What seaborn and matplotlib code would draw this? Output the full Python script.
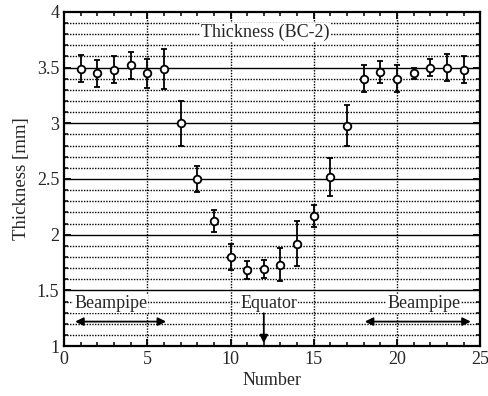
import numpy as np
import pandas as pd
import matplotlib
matplotlib.use("Agg")
import matplotlib.pyplot as plt
import seaborn as sns
from matplotlib.ticker import MultipleLocator

number = list(range(1, 25))
thickness = [3.49, 3.45, 3.48, 3.52, 3.45, 3.49, 3.00, 2.50, 2.12, 1.80, 1.68, 1.69,
             1.73, 1.92, 2.17, 2.52, 2.98, 3.40, 3.46, 3.40, 3.45, 3.50, 3.50, 3.48]
error = [0.12, 0.12, 0.12, 0.12, 0.13, 0.18, 0.20, 0.12, 0.10, 0.12, 0.08, 0.08,
         0.15, 0.20, 0.10, 0.17, 0.18, 0.12, 0.10, 0.12, 0.05, 0.08, 0.12, 0.12]

df = pd.DataFrame({"Number": number, "Thickness": thickness, "err": error})

sns.set_theme(style="ticks")
plt.rcParams['font.family'] = ['Liberation Serif', 'DejaVu Serif']

fig = plt.figure(figsize=(4.89, 3.96), dpi=100)
ax = fig.add_axes([0.131, 0.126, 0.851, 0.844])

# grid
for y in np.arange(1.1, 4.0, 0.1):
    if abs(round(y * 2) - y * 2) < 1e-6:
        ax.axhline(y, color='black', lw=1.0, zorder=1)
    else:
        ax.axhline(y, color='black', lw=1.0, ls=(0, (1.0, 1.0)), zorder=1)
for x in [5, 10, 15, 20]:
    ax.axvline(x, color='black', lw=1.0, ls=(0, (1.0, 1.0)), zorder=1)

ax.errorbar(df["Number"], df["Thickness"], yerr=df["err"], fmt='none',
            ecolor='black', elinewidth=1.3, capsize=2.5, capthick=1.3, zorder=3)
sns.scatterplot(data=df, x="Number", y="Thickness", ax=ax, marker='o', s=30,
                facecolor='white', edgecolor='black', linewidth=1.3, zorder=4)

ax.set_xlim(0, 25)
ax.set_ylim(1, 4)
ax.xaxis.set_major_locator(MultipleLocator(5))
ax.xaxis.set_minor_locator(MultipleLocator(1))
ax.yaxis.set_major_locator(MultipleLocator(0.5))
ax.yaxis.set_minor_locator(MultipleLocator(0.1))
ax.tick_params(which='both', direction='in', top=True, right=True, color='black', labelsize=13)
ax.tick_params(which='major', length=5, width=1.3)
ax.tick_params(which='minor', length=3, width=1.1)
ax.set_yticks([1, 1.5, 2, 2.5, 3, 3.5, 4])
ax.set_yticklabels(['1', '1.5', '2', '2.5', '3', '3.5', '4'])
for s in ax.spines.values():
    s.set_linewidth(1.6)
    s.set_color('black')

ax.set_xlabel("Number", fontsize=13, labelpad=3)
ax.set_ylabel("Thickness [mm]", fontsize=13.5, labelpad=5)

bbox = dict(facecolor='white', edgecolor='none', pad=0.5)
ax.text(12.1, 3.82, "Thickness (BC-2)", ha='center', va='center', fontsize=13, bbox=bbox, zorder=5)
ax.text(2.8, 1.38, "Beampipe", ha='center', va='center', fontsize=13, bbox=bbox, zorder=5)
ax.text(12.3, 1.38, "Equator", ha='center', va='center', fontsize=13, bbox=bbox, zorder=5)
ax.text(21.6, 1.38, "Beampipe", ha='center', va='center', fontsize=13, bbox=bbox, zorder=5)

arrowprops = dict(arrowstyle='<|-|>', color='black', lw=1.3, mutation_scale=12)
ax.annotate("", xy=(0.5, 1.22), xytext=(6.3, 1.22), arrowprops=arrowprops, zorder=5)
ax.annotate("", xy=(17.9, 1.22), xytext=(24.6, 1.22), arrowprops=arrowprops, zorder=5)
ax.annotate("", xy=(12, 1.0), xytext=(12, 1.32),
            arrowprops=dict(arrowstyle='-|>', color='black', lw=1.3, mutation_scale=12), zorder=5)

fig.savefig("out.png", dpi=100)
